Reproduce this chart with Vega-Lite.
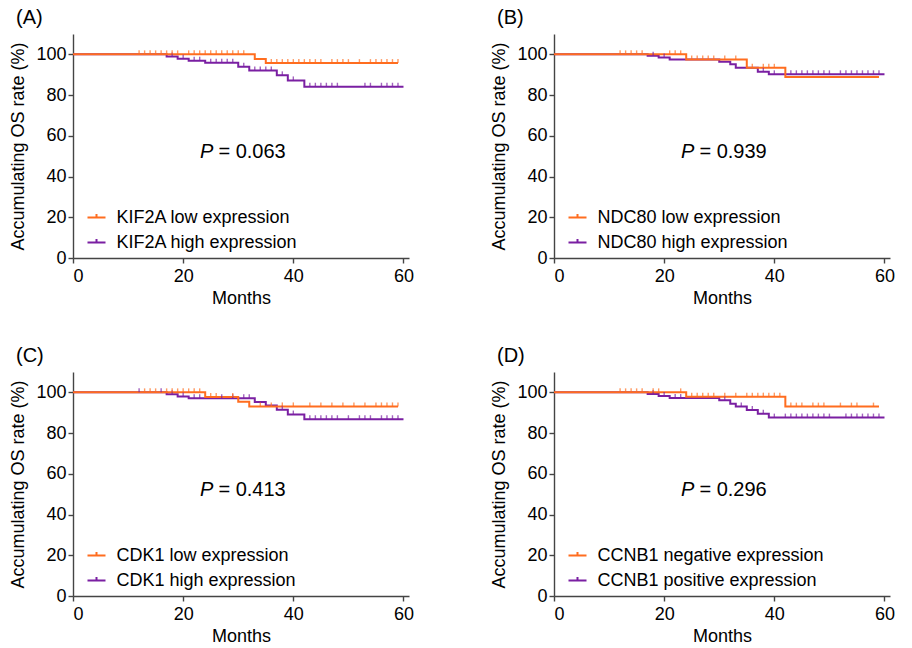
{
  "$schema": "https://vega.github.io/schema/vega-lite/v6.json",
  "background": "white",
  "padding": {"left": 9, "top": 8, "right": 5, "bottom": 5},
  "datasets": {
    "A": [
      {"group": "KIF2A high expression", "month": 0, "os": 100, "censored": 0},
      {"group": "KIF2A high expression", "month": 17, "os": 99, "censored": 0},
      {"group": "KIF2A high expression", "month": 18, "os": 99, "censored": 1},
      {"group": "KIF2A high expression", "month": 19, "os": 97.9, "censored": 0},
      {"group": "KIF2A high expression", "month": 20, "os": 97.9, "censored": 1},
      {"group": "KIF2A high expression", "month": 21, "os": 96.9, "censored": 0},
      {"group": "KIF2A high expression", "month": 22, "os": 96.9, "censored": 1},
      {"group": "KIF2A high expression", "month": 23, "os": 96.9, "censored": 1},
      {"group": "KIF2A high expression", "month": 24, "os": 95.9, "censored": 0},
      {"group": "KIF2A high expression", "month": 25, "os": 95.9, "censored": 1},
      {"group": "KIF2A high expression", "month": 26, "os": 95.9, "censored": 1},
      {"group": "KIF2A high expression", "month": 27, "os": 95.9, "censored": 1},
      {"group": "KIF2A high expression", "month": 28, "os": 95.9, "censored": 1},
      {"group": "KIF2A high expression", "month": 29, "os": 95.9, "censored": 1},
      {"group": "KIF2A high expression", "month": 30, "os": 93.9, "censored": 0},
      {"group": "KIF2A high expression", "month": 31, "os": 93.9, "censored": 1},
      {"group": "KIF2A high expression", "month": 32, "os": 92.1, "censored": 0},
      {"group": "KIF2A high expression", "month": 33, "os": 92.1, "censored": 1},
      {"group": "KIF2A high expression", "month": 34, "os": 92.1, "censored": 1},
      {"group": "KIF2A high expression", "month": 35, "os": 92.1, "censored": 1},
      {"group": "KIF2A high expression", "month": 36, "os": 92.1, "censored": 1},
      {"group": "KIF2A high expression", "month": 37, "os": 89.7, "censored": 0},
      {"group": "KIF2A high expression", "month": 38, "os": 89.7, "censored": 1},
      {"group": "KIF2A high expression", "month": 39, "os": 87.2, "censored": 0},
      {"group": "KIF2A high expression", "month": 40, "os": 87.2, "censored": 1},
      {"group": "KIF2A high expression", "month": 42, "os": 84.1, "censored": 0},
      {"group": "KIF2A high expression", "month": 43, "os": 84.1, "censored": 1},
      {"group": "KIF2A high expression", "month": 44, "os": 84.1, "censored": 1},
      {"group": "KIF2A high expression", "month": 45, "os": 84.1, "censored": 1},
      {"group": "KIF2A high expression", "month": 46, "os": 84.1, "censored": 1},
      {"group": "KIF2A high expression", "month": 47, "os": 84.1, "censored": 1},
      {"group": "KIF2A high expression", "month": 48, "os": 84.1, "censored": 1},
      {"group": "KIF2A high expression", "month": 53, "os": 84.1, "censored": 1},
      {"group": "KIF2A high expression", "month": 54, "os": 84.1, "censored": 1},
      {"group": "KIF2A high expression", "month": 56, "os": 84.1, "censored": 1},
      {"group": "KIF2A high expression", "month": 57, "os": 84.1, "censored": 1},
      {"group": "KIF2A high expression", "month": 58, "os": 84.1, "censored": 1},
      {"group": "KIF2A high expression", "month": 59, "os": 84.1, "censored": 1},
      {"group": "KIF2A high expression", "month": 60, "os": 84.1, "censored": 0},
      {"group": "KIF2A low expression", "month": 0, "os": 100, "censored": 0},
      {"group": "KIF2A low expression", "month": 12, "os": 100, "censored": 1},
      {"group": "KIF2A low expression", "month": 13, "os": 100, "censored": 1},
      {"group": "KIF2A low expression", "month": 14, "os": 100, "censored": 1},
      {"group": "KIF2A low expression", "month": 15, "os": 100, "censored": 1},
      {"group": "KIF2A low expression", "month": 16, "os": 100, "censored": 1},
      {"group": "KIF2A low expression", "month": 17, "os": 100, "censored": 1},
      {"group": "KIF2A low expression", "month": 18, "os": 100, "censored": 1},
      {"group": "KIF2A low expression", "month": 19, "os": 100, "censored": 1},
      {"group": "KIF2A low expression", "month": 21, "os": 100, "censored": 1},
      {"group": "KIF2A low expression", "month": 22, "os": 100, "censored": 1},
      {"group": "KIF2A low expression", "month": 23, "os": 100, "censored": 1},
      {"group": "KIF2A low expression", "month": 24, "os": 100, "censored": 1},
      {"group": "KIF2A low expression", "month": 25, "os": 100, "censored": 1},
      {"group": "KIF2A low expression", "month": 26, "os": 100, "censored": 1},
      {"group": "KIF2A low expression", "month": 27, "os": 100, "censored": 1},
      {"group": "KIF2A low expression", "month": 28, "os": 100, "censored": 1},
      {"group": "KIF2A low expression", "month": 29, "os": 100, "censored": 1},
      {"group": "KIF2A low expression", "month": 30, "os": 100, "censored": 1},
      {"group": "KIF2A low expression", "month": 31, "os": 100, "censored": 1},
      {"group": "KIF2A low expression", "month": 33, "os": 97.7, "censored": 0},
      {"group": "KIF2A low expression", "month": 35, "os": 95.7, "censored": 0},
      {"group": "KIF2A low expression", "month": 36, "os": 95.7, "censored": 1},
      {"group": "KIF2A low expression", "month": 37, "os": 95.7, "censored": 1},
      {"group": "KIF2A low expression", "month": 38, "os": 95.7, "censored": 1},
      {"group": "KIF2A low expression", "month": 39, "os": 95.7, "censored": 1},
      {"group": "KIF2A low expression", "month": 40, "os": 95.7, "censored": 1},
      {"group": "KIF2A low expression", "month": 41, "os": 95.7, "censored": 1},
      {"group": "KIF2A low expression", "month": 42, "os": 95.7, "censored": 1},
      {"group": "KIF2A low expression", "month": 43, "os": 95.7, "censored": 1},
      {"group": "KIF2A low expression", "month": 44, "os": 95.7, "censored": 1},
      {"group": "KIF2A low expression", "month": 45, "os": 95.7, "censored": 1},
      {"group": "KIF2A low expression", "month": 47, "os": 95.7, "censored": 1},
      {"group": "KIF2A low expression", "month": 48, "os": 95.7, "censored": 1},
      {"group": "KIF2A low expression", "month": 49, "os": 95.7, "censored": 1},
      {"group": "KIF2A low expression", "month": 50, "os": 95.7, "censored": 1},
      {"group": "KIF2A low expression", "month": 52, "os": 95.7, "censored": 1},
      {"group": "KIF2A low expression", "month": 54, "os": 95.7, "censored": 1},
      {"group": "KIF2A low expression", "month": 55, "os": 95.7, "censored": 1},
      {"group": "KIF2A low expression", "month": 56, "os": 95.7, "censored": 1},
      {"group": "KIF2A low expression", "month": 57, "os": 95.7, "censored": 1},
      {"group": "KIF2A low expression", "month": 58, "os": 95.7, "censored": 1},
      {"group": "KIF2A low expression", "month": 59, "os": 95.7, "censored": 1}
    ],
    "B": [
      {"group": "NDC80 high expression", "month": 0, "os": 100, "censored": 0},
      {"group": "NDC80 high expression", "month": 17, "os": 99.3, "censored": 0},
      {"group": "NDC80 high expression", "month": 18, "os": 99.3, "censored": 1},
      {"group": "NDC80 high expression", "month": 19, "os": 98.4, "censored": 0},
      {"group": "NDC80 high expression", "month": 20, "os": 98.4, "censored": 1},
      {"group": "NDC80 high expression", "month": 21, "os": 97.5, "censored": 0},
      {"group": "NDC80 high expression", "month": 30, "os": 96.4, "censored": 0},
      {"group": "NDC80 high expression", "month": 32, "os": 95.1, "censored": 0},
      {"group": "NDC80 high expression", "month": 33, "os": 93.4, "censored": 0},
      {"group": "NDC80 high expression", "month": 37, "os": 91.5, "censored": 0},
      {"group": "NDC80 high expression", "month": 38, "os": 91.5, "censored": 1},
      {"group": "NDC80 high expression", "month": 39, "os": 90.2, "censored": 0},
      {"group": "NDC80 high expression", "month": 40, "os": 90.2, "censored": 1},
      {"group": "NDC80 high expression", "month": 43, "os": 90.2, "censored": 1},
      {"group": "NDC80 high expression", "month": 44, "os": 90.2, "censored": 1},
      {"group": "NDC80 high expression", "month": 45, "os": 90.2, "censored": 1},
      {"group": "NDC80 high expression", "month": 46, "os": 90.2, "censored": 1},
      {"group": "NDC80 high expression", "month": 47, "os": 90.2, "censored": 1},
      {"group": "NDC80 high expression", "month": 48, "os": 90.2, "censored": 1},
      {"group": "NDC80 high expression", "month": 49, "os": 90.2, "censored": 1},
      {"group": "NDC80 high expression", "month": 50, "os": 90.2, "censored": 1},
      {"group": "NDC80 high expression", "month": 52, "os": 90.2, "censored": 1},
      {"group": "NDC80 high expression", "month": 53, "os": 90.2, "censored": 1},
      {"group": "NDC80 high expression", "month": 54, "os": 90.2, "censored": 1},
      {"group": "NDC80 high expression", "month": 55, "os": 90.2, "censored": 1},
      {"group": "NDC80 high expression", "month": 56, "os": 90.2, "censored": 1},
      {"group": "NDC80 high expression", "month": 57, "os": 90.2, "censored": 1},
      {"group": "NDC80 high expression", "month": 58, "os": 90.2, "censored": 1},
      {"group": "NDC80 high expression", "month": 59, "os": 90.2, "censored": 1},
      {"group": "NDC80 high expression", "month": 60, "os": 90.2, "censored": 0},
      {"group": "NDC80 low expression", "month": 0, "os": 100, "censored": 0},
      {"group": "NDC80 low expression", "month": 12, "os": 100, "censored": 1},
      {"group": "NDC80 low expression", "month": 13, "os": 100, "censored": 1},
      {"group": "NDC80 low expression", "month": 14, "os": 100, "censored": 1},
      {"group": "NDC80 low expression", "month": 15, "os": 100, "censored": 1},
      {"group": "NDC80 low expression", "month": 16, "os": 100, "censored": 1},
      {"group": "NDC80 low expression", "month": 21, "os": 100, "censored": 1},
      {"group": "NDC80 low expression", "month": 22, "os": 100, "censored": 1},
      {"group": "NDC80 low expression", "month": 23, "os": 100, "censored": 1},
      {"group": "NDC80 low expression", "month": 24, "os": 97.5, "censored": 0},
      {"group": "NDC80 low expression", "month": 25, "os": 97.5, "censored": 1},
      {"group": "NDC80 low expression", "month": 26, "os": 97.5, "censored": 1},
      {"group": "NDC80 low expression", "month": 27, "os": 97.5, "censored": 1},
      {"group": "NDC80 low expression", "month": 28, "os": 97.5, "censored": 1},
      {"group": "NDC80 low expression", "month": 29, "os": 97.5, "censored": 1},
      {"group": "NDC80 low expression", "month": 31, "os": 97.5, "censored": 1},
      {"group": "NDC80 low expression", "month": 33, "os": 97.5, "censored": 1},
      {"group": "NDC80 low expression", "month": 35, "os": 93.4, "censored": 0},
      {"group": "NDC80 low expression", "month": 36, "os": 93.4, "censored": 1},
      {"group": "NDC80 low expression", "month": 38, "os": 93.4, "censored": 1},
      {"group": "NDC80 low expression", "month": 39, "os": 93.4, "censored": 1},
      {"group": "NDC80 low expression", "month": 40, "os": 93.4, "censored": 1},
      {"group": "NDC80 low expression", "month": 42, "os": 88.9, "censored": 0},
      {"group": "NDC80 low expression", "month": 59, "os": 88.9, "censored": 0}
    ],
    "C": [
      {"group": "CDK1 high expression", "month": 0, "os": 100, "censored": 0},
      {"group": "CDK1 high expression", "month": 12, "os": 100, "censored": 1},
      {"group": "CDK1 high expression", "month": 16, "os": 100, "censored": 1},
      {"group": "CDK1 high expression", "month": 17, "os": 99.1, "censored": 0},
      {"group": "CDK1 high expression", "month": 18, "os": 99.1, "censored": 1},
      {"group": "CDK1 high expression", "month": 19, "os": 98.0, "censored": 0},
      {"group": "CDK1 high expression", "month": 20, "os": 98.0, "censored": 1},
      {"group": "CDK1 high expression", "month": 21, "os": 97.1, "censored": 0},
      {"group": "CDK1 high expression", "month": 22, "os": 97.1, "censored": 1},
      {"group": "CDK1 high expression", "month": 23, "os": 97.1, "censored": 1},
      {"group": "CDK1 high expression", "month": 27, "os": 97.1, "censored": 1},
      {"group": "CDK1 high expression", "month": 29, "os": 97.1, "censored": 1},
      {"group": "CDK1 high expression", "month": 31, "os": 97.1, "censored": 1},
      {"group": "CDK1 high expression", "month": 32, "os": 97.1, "censored": 1},
      {"group": "CDK1 high expression", "month": 33, "os": 95.3, "censored": 0},
      {"group": "CDK1 high expression", "month": 35, "os": 93.5, "censored": 0},
      {"group": "CDK1 high expression", "month": 37, "os": 91.5, "censored": 0},
      {"group": "CDK1 high expression", "month": 38, "os": 91.5, "censored": 1},
      {"group": "CDK1 high expression", "month": 39, "os": 89.1, "censored": 0},
      {"group": "CDK1 high expression", "month": 40, "os": 89.1, "censored": 1},
      {"group": "CDK1 high expression", "month": 42, "os": 86.8, "censored": 0},
      {"group": "CDK1 high expression", "month": 43, "os": 86.8, "censored": 1},
      {"group": "CDK1 high expression", "month": 44, "os": 86.8, "censored": 1},
      {"group": "CDK1 high expression", "month": 45, "os": 86.8, "censored": 1},
      {"group": "CDK1 high expression", "month": 46, "os": 86.8, "censored": 1},
      {"group": "CDK1 high expression", "month": 47, "os": 86.8, "censored": 1},
      {"group": "CDK1 high expression", "month": 48, "os": 86.8, "censored": 1},
      {"group": "CDK1 high expression", "month": 50, "os": 86.8, "censored": 1},
      {"group": "CDK1 high expression", "month": 52, "os": 86.8, "censored": 1},
      {"group": "CDK1 high expression", "month": 53, "os": 86.8, "censored": 1},
      {"group": "CDK1 high expression", "month": 54, "os": 86.8, "censored": 1},
      {"group": "CDK1 high expression", "month": 56, "os": 86.8, "censored": 1},
      {"group": "CDK1 high expression", "month": 57, "os": 86.8, "censored": 1},
      {"group": "CDK1 high expression", "month": 58, "os": 86.8, "censored": 1},
      {"group": "CDK1 high expression", "month": 59, "os": 86.8, "censored": 1},
      {"group": "CDK1 high expression", "month": 60, "os": 86.8, "censored": 0},
      {"group": "CDK1 low expression", "month": 0, "os": 100, "censored": 0},
      {"group": "CDK1 low expression", "month": 13, "os": 100, "censored": 1},
      {"group": "CDK1 low expression", "month": 14, "os": 100, "censored": 1},
      {"group": "CDK1 low expression", "month": 15, "os": 100, "censored": 1},
      {"group": "CDK1 low expression", "month": 17, "os": 100, "censored": 1},
      {"group": "CDK1 low expression", "month": 18, "os": 100, "censored": 1},
      {"group": "CDK1 low expression", "month": 19, "os": 100, "censored": 1},
      {"group": "CDK1 low expression", "month": 20, "os": 100, "censored": 1},
      {"group": "CDK1 low expression", "month": 21, "os": 100, "censored": 1},
      {"group": "CDK1 low expression", "month": 22, "os": 100, "censored": 1},
      {"group": "CDK1 low expression", "month": 23, "os": 100, "censored": 1},
      {"group": "CDK1 low expression", "month": 24, "os": 97.7, "censored": 0},
      {"group": "CDK1 low expression", "month": 25, "os": 97.7, "censored": 1},
      {"group": "CDK1 low expression", "month": 26, "os": 97.7, "censored": 1},
      {"group": "CDK1 low expression", "month": 29, "os": 97.7, "censored": 1},
      {"group": "CDK1 low expression", "month": 30, "os": 95.4, "censored": 0},
      {"group": "CDK1 low expression", "month": 32, "os": 93.1, "censored": 0},
      {"group": "CDK1 low expression", "month": 34, "os": 93.1, "censored": 1},
      {"group": "CDK1 low expression", "month": 36, "os": 93.1, "censored": 1},
      {"group": "CDK1 low expression", "month": 38, "os": 93.1, "censored": 1},
      {"group": "CDK1 low expression", "month": 40, "os": 93.1, "censored": 1},
      {"group": "CDK1 low expression", "month": 43, "os": 93.1, "censored": 1},
      {"group": "CDK1 low expression", "month": 45, "os": 93.1, "censored": 1},
      {"group": "CDK1 low expression", "month": 47, "os": 93.1, "censored": 1},
      {"group": "CDK1 low expression", "month": 49, "os": 93.1, "censored": 1},
      {"group": "CDK1 low expression", "month": 51, "os": 93.1, "censored": 1},
      {"group": "CDK1 low expression", "month": 53, "os": 93.1, "censored": 1},
      {"group": "CDK1 low expression", "month": 55, "os": 93.1, "censored": 1},
      {"group": "CDK1 low expression", "month": 56, "os": 93.1, "censored": 1},
      {"group": "CDK1 low expression", "month": 57, "os": 93.1, "censored": 1},
      {"group": "CDK1 low expression", "month": 58, "os": 93.1, "censored": 1},
      {"group": "CDK1 low expression", "month": 59, "os": 93.1, "censored": 1}
    ],
    "D": [
      {"group": "CCNB1 positive expression", "month": 0, "os": 100, "censored": 0},
      {"group": "CCNB1 positive expression", "month": 17, "os": 99.2, "censored": 0},
      {"group": "CCNB1 positive expression", "month": 18, "os": 99.2, "censored": 1},
      {"group": "CCNB1 positive expression", "month": 19, "os": 98.2, "censored": 0},
      {"group": "CCNB1 positive expression", "month": 20, "os": 98.2, "censored": 1},
      {"group": "CCNB1 positive expression", "month": 21, "os": 97.2, "censored": 0},
      {"group": "CCNB1 positive expression", "month": 22, "os": 97.2, "censored": 1},
      {"group": "CCNB1 positive expression", "month": 23, "os": 97.2, "censored": 1},
      {"group": "CCNB1 positive expression", "month": 30, "os": 96.1, "censored": 0},
      {"group": "CCNB1 positive expression", "month": 31, "os": 96.1, "censored": 1},
      {"group": "CCNB1 positive expression", "month": 32, "os": 94.4, "censored": 0},
      {"group": "CCNB1 positive expression", "month": 33, "os": 93.1, "censored": 0},
      {"group": "CCNB1 positive expression", "month": 34, "os": 93.1, "censored": 1},
      {"group": "CCNB1 positive expression", "month": 35, "os": 91.3, "censored": 0},
      {"group": "CCNB1 positive expression", "month": 36, "os": 91.3, "censored": 1},
      {"group": "CCNB1 positive expression", "month": 37, "os": 89.5, "censored": 0},
      {"group": "CCNB1 positive expression", "month": 38, "os": 89.5, "censored": 1},
      {"group": "CCNB1 positive expression", "month": 39, "os": 87.6, "censored": 0},
      {"group": "CCNB1 positive expression", "month": 40, "os": 87.6, "censored": 1},
      {"group": "CCNB1 positive expression", "month": 42, "os": 87.6, "censored": 1},
      {"group": "CCNB1 positive expression", "month": 43, "os": 87.6, "censored": 1},
      {"group": "CCNB1 positive expression", "month": 44, "os": 87.6, "censored": 1},
      {"group": "CCNB1 positive expression", "month": 45, "os": 87.6, "censored": 1},
      {"group": "CCNB1 positive expression", "month": 46, "os": 87.6, "censored": 1},
      {"group": "CCNB1 positive expression", "month": 47, "os": 87.6, "censored": 1},
      {"group": "CCNB1 positive expression", "month": 48, "os": 87.6, "censored": 1},
      {"group": "CCNB1 positive expression", "month": 49, "os": 87.6, "censored": 1},
      {"group": "CCNB1 positive expression", "month": 50, "os": 87.6, "censored": 1},
      {"group": "CCNB1 positive expression", "month": 53, "os": 87.6, "censored": 1},
      {"group": "CCNB1 positive expression", "month": 54, "os": 87.6, "censored": 1},
      {"group": "CCNB1 positive expression", "month": 55, "os": 87.6, "censored": 1},
      {"group": "CCNB1 positive expression", "month": 56, "os": 87.6, "censored": 1},
      {"group": "CCNB1 positive expression", "month": 57, "os": 87.6, "censored": 1},
      {"group": "CCNB1 positive expression", "month": 58, "os": 87.6, "censored": 1},
      {"group": "CCNB1 positive expression", "month": 59, "os": 87.6, "censored": 1},
      {"group": "CCNB1 positive expression", "month": 60, "os": 87.6, "censored": 0},
      {"group": "CCNB1 negative expression", "month": 0, "os": 100, "censored": 0},
      {"group": "CCNB1 negative expression", "month": 12, "os": 100, "censored": 1},
      {"group": "CCNB1 negative expression", "month": 13, "os": 100, "censored": 1},
      {"group": "CCNB1 negative expression", "month": 14, "os": 100, "censored": 1},
      {"group": "CCNB1 negative expression", "month": 15, "os": 100, "censored": 1},
      {"group": "CCNB1 negative expression", "month": 16, "os": 100, "censored": 1},
      {"group": "CCNB1 negative expression", "month": 18, "os": 100, "censored": 1},
      {"group": "CCNB1 negative expression", "month": 19, "os": 100, "censored": 1},
      {"group": "CCNB1 negative expression", "month": 23, "os": 100, "censored": 1},
      {"group": "CCNB1 negative expression", "month": 24, "os": 97.9, "censored": 0},
      {"group": "CCNB1 negative expression", "month": 25, "os": 97.9, "censored": 1},
      {"group": "CCNB1 negative expression", "month": 26, "os": 97.9, "censored": 1},
      {"group": "CCNB1 negative expression", "month": 27, "os": 97.9, "censored": 1},
      {"group": "CCNB1 negative expression", "month": 28, "os": 97.9, "censored": 1},
      {"group": "CCNB1 negative expression", "month": 29, "os": 97.9, "censored": 1},
      {"group": "CCNB1 negative expression", "month": 31, "os": 97.9, "censored": 1},
      {"group": "CCNB1 negative expression", "month": 33, "os": 97.9, "censored": 1},
      {"group": "CCNB1 negative expression", "month": 35, "os": 97.9, "censored": 1},
      {"group": "CCNB1 negative expression", "month": 36, "os": 97.9, "censored": 1},
      {"group": "CCNB1 negative expression", "month": 37, "os": 97.9, "censored": 1},
      {"group": "CCNB1 negative expression", "month": 38, "os": 97.9, "censored": 1},
      {"group": "CCNB1 negative expression", "month": 39, "os": 97.9, "censored": 1},
      {"group": "CCNB1 negative expression", "month": 40, "os": 97.9, "censored": 1},
      {"group": "CCNB1 negative expression", "month": 41, "os": 97.9, "censored": 1},
      {"group": "CCNB1 negative expression", "month": 42, "os": 93.0, "censored": 0},
      {"group": "CCNB1 negative expression", "month": 43, "os": 93.0, "censored": 1},
      {"group": "CCNB1 negative expression", "month": 44, "os": 93.0, "censored": 1},
      {"group": "CCNB1 negative expression", "month": 45, "os": 93.0, "censored": 1},
      {"group": "CCNB1 negative expression", "month": 47, "os": 93.0, "censored": 1},
      {"group": "CCNB1 negative expression", "month": 48, "os": 93.0, "censored": 1},
      {"group": "CCNB1 negative expression", "month": 49, "os": 93.0, "censored": 1},
      {"group": "CCNB1 negative expression", "month": 52, "os": 93.0, "censored": 1},
      {"group": "CCNB1 negative expression", "month": 54, "os": 93.0, "censored": 1},
      {"group": "CCNB1 negative expression", "month": 55, "os": 93.0, "censored": 1},
      {"group": "CCNB1 negative expression", "month": 58, "os": 93.0, "censored": 1},
      {"group": "CCNB1 negative expression", "month": 59, "os": 93.0, "censored": 0}
    ]
  },
  "columns": 2,
  "spacing": {"column": 145, "row": 114},
  "bounds": "flush",
  "resolve": {"scale": {"color": "independent", "fill": "independent"}, "legend": {"color": "independent", "fill": "independent"}},
  "concat": [
    {
      "title": "(A)",
      "width": 336, "height": 224,
      "data": {"name": "A"},
      "layer": [
        {"mark": {"type": "line", "interpolate": "step-after", "strokeWidth": 2},
         "encoding": {
           "x": {"field": "month", "type": "quantitative", "scale": {"domain": [0, 61], "nice": false}, "axis": {"title": "Months", "values": [0, 20, 40, 60]}},
           "y": {"field": "os", "type": "quantitative", "scale": {"domain": [0, 110], "nice": false}, "axis": {"title": "Accumulating OS rate (%)", "values": [0, 20, 40, 60, 80, 100]}},
           "color": {"field": "group", "type": "nominal", "scale": {"domain": ["KIF2A low expression", "KIF2A high expression"], "range": ["#ff6d1f", "#7a1fa2"]}, "legend": {"title": null}}}},
        {"transform": [{"filter": "datum.censored == 1"}],
         "mark": {"type": "tick", "orient": "vertical", "size": 4, "thickness": 1.4, "yOffset": -2},
         "encoding": {
           "x": {"field": "month", "type": "quantitative"},
           "y": {"field": "os", "type": "quantitative"},
           "fill": {"field": "group", "type": "nominal", "scale": {"domain": ["KIF2A low expression", "KIF2A high expression"], "range": ["#ff6d1f", "#7a1fa2"]}, "legend": null}}},
        {"data": {"values": [{}]}, "mark": {"type": "text", "fontStyle": "italic", "align": "right", "baseline": "middle", "dx": -5, "fontSize": 20},
         "encoding": {"x": {"datum": 26.4, "type": "quantitative"}, "y": {"datum": 52, "type": "quantitative"}, "text": {"value": "P"}}},
        {"data": {"values": [{}]}, "mark": {"type": "text", "align": "left", "baseline": "middle", "fontSize": 20},
         "encoding": {"x": {"datum": 26.4, "type": "quantitative"}, "y": {"datum": 52, "type": "quantitative"}, "text": {"value": "= 0.063"}}}
      ]
    },
    {
      "title": "(B)",
      "width": 336, "height": 224,
      "data": {"name": "B"},
      "layer": [
        {"mark": {"type": "line", "interpolate": "step-after", "strokeWidth": 2},
         "encoding": {
           "x": {"field": "month", "type": "quantitative", "scale": {"domain": [0, 61], "nice": false}, "axis": {"title": "Months", "values": [0, 20, 40, 60]}},
           "y": {"field": "os", "type": "quantitative", "scale": {"domain": [0, 110], "nice": false}, "axis": {"title": "Accumulating OS rate (%)", "values": [0, 20, 40, 60, 80, 100]}},
           "color": {"field": "group", "type": "nominal", "scale": {"domain": ["NDC80 low expression", "NDC80 high expression"], "range": ["#ff6d1f", "#7a1fa2"]}, "legend": {"title": null}}}},
        {"transform": [{"filter": "datum.censored == 1"}],
         "mark": {"type": "tick", "orient": "vertical", "size": 4, "thickness": 1.4, "yOffset": -2},
         "encoding": {
           "x": {"field": "month", "type": "quantitative"},
           "y": {"field": "os", "type": "quantitative"},
           "fill": {"field": "group", "type": "nominal", "scale": {"domain": ["NDC80 low expression", "NDC80 high expression"], "range": ["#ff6d1f", "#7a1fa2"]}, "legend": null}}},
        {"data": {"values": [{}]}, "mark": {"type": "text", "fontStyle": "italic", "align": "right", "baseline": "middle", "dx": -5, "fontSize": 20},
         "encoding": {"x": {"datum": 26.4, "type": "quantitative"}, "y": {"datum": 52, "type": "quantitative"}, "text": {"value": "P"}}},
        {"data": {"values": [{}]}, "mark": {"type": "text", "align": "left", "baseline": "middle", "fontSize": 20},
         "encoding": {"x": {"datum": 26.4, "type": "quantitative"}, "y": {"datum": 52, "type": "quantitative"}, "text": {"value": "= 0.939"}}}
      ]
    },
    {
      "title": "(C)",
      "width": 336, "height": 224,
      "data": {"name": "C"},
      "layer": [
        {"mark": {"type": "line", "interpolate": "step-after", "strokeWidth": 2},
         "encoding": {
           "x": {"field": "month", "type": "quantitative", "scale": {"domain": [0, 61], "nice": false}, "axis": {"title": "Months", "values": [0, 20, 40, 60]}},
           "y": {"field": "os", "type": "quantitative", "scale": {"domain": [0, 110], "nice": false}, "axis": {"title": "Accumulating OS rate (%)", "values": [0, 20, 40, 60, 80, 100]}},
           "color": {"field": "group", "type": "nominal", "scale": {"domain": ["CDK1 low expression", "CDK1 high expression"], "range": ["#ff6d1f", "#7a1fa2"]}, "legend": {"title": null}}}},
        {"transform": [{"filter": "datum.censored == 1"}],
         "mark": {"type": "tick", "orient": "vertical", "size": 4, "thickness": 1.4, "yOffset": -2},
         "encoding": {
           "x": {"field": "month", "type": "quantitative"},
           "y": {"field": "os", "type": "quantitative"},
           "fill": {"field": "group", "type": "nominal", "scale": {"domain": ["CDK1 low expression", "CDK1 high expression"], "range": ["#ff6d1f", "#7a1fa2"]}, "legend": null}}},
        {"data": {"values": [{}]}, "mark": {"type": "text", "fontStyle": "italic", "align": "right", "baseline": "middle", "dx": -5, "fontSize": 20},
         "encoding": {"x": {"datum": 26.4, "type": "quantitative"}, "y": {"datum": 52, "type": "quantitative"}, "text": {"value": "P"}}},
        {"data": {"values": [{}]}, "mark": {"type": "text", "align": "left", "baseline": "middle", "fontSize": 20},
         "encoding": {"x": {"datum": 26.4, "type": "quantitative"}, "y": {"datum": 52, "type": "quantitative"}, "text": {"value": "= 0.413"}}}
      ]
    },
    {
      "title": "(D)",
      "width": 336, "height": 224,
      "data": {"name": "D"},
      "layer": [
        {"mark": {"type": "line", "interpolate": "step-after", "strokeWidth": 2},
         "encoding": {
           "x": {"field": "month", "type": "quantitative", "scale": {"domain": [0, 61], "nice": false}, "axis": {"title": "Months", "values": [0, 20, 40, 60]}},
           "y": {"field": "os", "type": "quantitative", "scale": {"domain": [0, 110], "nice": false}, "axis": {"title": "Accumulating OS rate (%)", "values": [0, 20, 40, 60, 80, 100]}},
           "color": {"field": "group", "type": "nominal", "scale": {"domain": ["CCNB1 negative expression", "CCNB1 positive expression"], "range": ["#ff6d1f", "#7a1fa2"]}, "legend": {"title": null}}}},
        {"transform": [{"filter": "datum.censored == 1"}],
         "mark": {"type": "tick", "orient": "vertical", "size": 4, "thickness": 1.4, "yOffset": -2},
         "encoding": {
           "x": {"field": "month", "type": "quantitative"},
           "y": {"field": "os", "type": "quantitative"},
           "fill": {"field": "group", "type": "nominal", "scale": {"domain": ["CCNB1 negative expression", "CCNB1 positive expression"], "range": ["#ff6d1f", "#7a1fa2"]}, "legend": null}}},
        {"data": {"values": [{}]}, "mark": {"type": "text", "fontStyle": "italic", "align": "right", "baseline": "middle", "dx": -5, "fontSize": 20},
         "encoding": {"x": {"datum": 26.4, "type": "quantitative"}, "y": {"datum": 52, "type": "quantitative"}, "text": {"value": "P"}}},
        {"data": {"values": [{}]}, "mark": {"type": "text", "align": "left", "baseline": "middle", "fontSize": 20},
         "encoding": {"x": {"datum": 26.4, "type": "quantitative"}, "y": {"datum": 52, "type": "quantitative"}, "text": {"value": "= 0.296"}}}
      ]
    }
  ],
  "config": {
    "font": "Liberation Sans",
    "view": {"stroke": null},
    "axis": {"grid": false, "domainColor": "#444444", "domainWidth": 1.4, "tickColor": "#444444", "tickWidth": 1.4, "tickSize": 5, "labelFontSize": 18, "labelColor": "#000000", "titleFontSize": 18, "titleFontWeight": "normal", "titleColor": "#000000", "labelPadding": 2},
    "axisX": {"labelPadding": 4, "titlePadding": 4},
    "axisY": {"titlePadding": 8},
    "title": {"fontSize": 20, "fontWeight": "normal", "anchor": "start", "frame": "bounds", "color": "#000000", "offset": 6, "dx": 6},
    "text": {"color": "#000000", "font": "Liberation Sans"},
    "legend": {"orient": "none", "legendX": 13.5, "legendY": 173.5, "symbolType": "M-1,0H1M0,0V-0.4", "symbolSize": 324, "symbolStrokeWidth": 2, "symbolFillColor": "transparent", "labelFontSize": 18, "labelColor": "#000000", "labelOffset": 10, "labelLimit": 0, "rowPadding": 6, "padding": 0}
  }
}
